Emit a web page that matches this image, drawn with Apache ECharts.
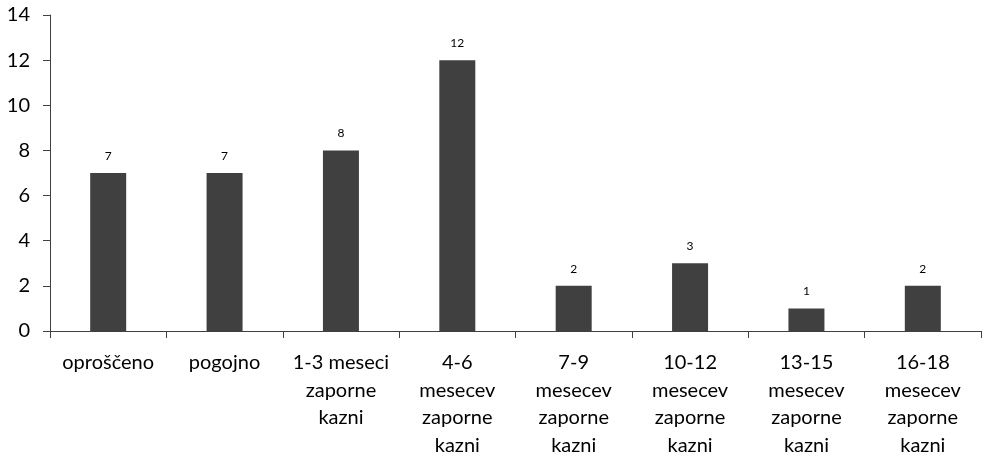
<!DOCTYPE html>
<html><head><meta charset="utf-8">
<script src="https://cdn.jsdelivr.net/npm/echarts@6/dist/echarts.min.js"></script>
<style>html,body{margin:0;padding:0;background:#fff}#c{width:984px;height:459px}</style>
</head><body><div id="c"></div>
<script>
const categories = ["oproščeno","pogojno","1-3 meseci\nzaporne\nkazni","4-6\nmesecev\nzaporne\nkazni","7-9\nmesecev\nzaporne\nkazni","10-12\nmesecev\nzaporne\nkazni","13-15\nmesecev\nzaporne\nkazni","16-18\nmesecev\nzaporne\nkazni"];
const values = [7,7,8,12,2,3,1,2];
const yTicks = {min:0,max:14,interval:2};
const font = "Lato, 'Open Sans', sans-serif";
const chart = echarts.init(document.getElementById('c'));
chart.setOption({
  animation:false,
  grid:{left:50,right:3,top:15,bottom:125.5,containLabel:false},
  xAxis:{type:'category',data:categories,
    axisLine:{lineStyle:{color:'#404040',width:1}},
    axisTick:{show:true,length:7,alignWithLabel:false,lineStyle:{color:'#404040'}},
    axisLabel:{interval:0,color:'#000',fontFamily:font,fontSize:20,lineHeight:27.5,margin:18}},
  yAxis:{type:'value',min:yTicks.min,max:yTicks.max,interval:yTicks.interval,
    splitLine:{show:false},
    axisLine:{show:true,lineStyle:{color:'#404040'}},
    axisTick:{show:true,inside:false,length:7,lineStyle:{color:'#404040'}},
    axisLabel:{color:'#000',fontFamily:font,fontSize:20,margin:20}},
  series:[{type:'bar',data:values,barWidth:36,itemStyle:{color:'#404040'},
    label:{show:true,position:'top',distance:11,color:'#000',fontFamily:font,fontSize:12}}]
});
</script></body></html>
